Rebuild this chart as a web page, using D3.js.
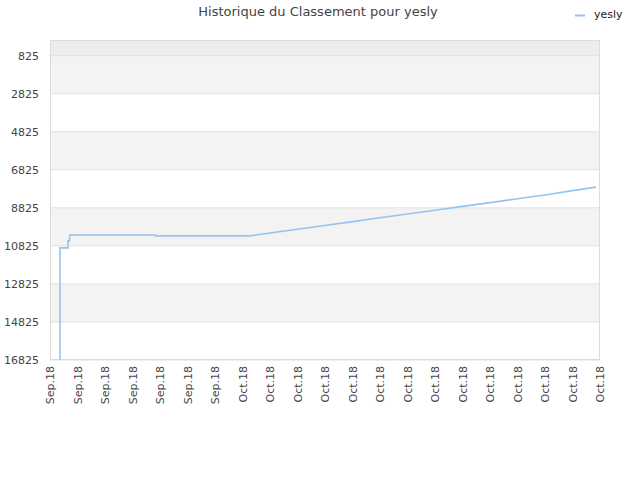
<!DOCTYPE html>
<html>
<head>
<meta charset="utf-8">
<script src="https://cdn.jsdelivr.net/npm/d3@7"></script>
<style>
  body { margin: 0; background: #fff; }
  text { font-family: "DejaVu Sans", sans-serif; }
</style>
</head>
<body>
<svg class="chart" width="640" height="480"></svg>
<script>
// rank history for yesly (lower rank = better, axis reversed)
const dates = [
  "2018-09-24T08:40", "2018-09-24T08:40", "2018-09-24T15:40", "2018-09-24T15:40",
  "2018-09-24T17:00", "2018-09-24T17:20", "2018-09-27T19:40", "2018-09-27T20:00",
  "2018-10-01T06:30", "2018-10-02T00:00", "2018-10-03T00:00", "2018-10-04T00:00",
  "2018-10-05T00:00", "2018-10-06T00:00", "2018-10-07T00:00", "2018-10-08T00:00",
  "2018-10-09T00:00", "2018-10-10T00:00", "2018-10-11T00:00", "2018-10-12T00:00",
  "2018-10-13T00:00", "2018-10-13T20:30"
];
const ranks = [
  16825, 10930, 10930, 10560,
  10560, 10250, 10250, 10300,
  10300, 10150, 9950, 9750,
  9550, 9350, 9150, 8950,
  8750, 8550, 8350, 8150,
  7920, 7736
];
const yTicks = [825, 2825, 4825, 6825, 8825, 10825, 12825, 14825, 16825];
const bandStarts = [825, 4825, 8825, 12825];
const seriesName = "yesly";
const xStart = "2018-09-24", xEnd = "2018-10-14";

const parse = d3.timeParse("%Y-%m-%dT%H:%M");
const parseDay = d3.timeParse("%Y-%m-%d");
const data = dates.map((d, i) => ({ date: parse(d), rank: ranks[i] }));

const plotL = 50, plotR = 600, plotT = 40, plotB = 360;
const svg = d3.select('svg.chart');

const x = d3.scaleTime()
            .domain([parseDay(xStart), parseDay(xEnd)])
            .range([plotL, plotR]);
const y = d3.scaleLinear()
            .domain([1, 16825])
            .range([plotT, plotB]);

// top strip and alternating bands
svg.append('rect')
   .attr('x', plotL).attr('y', plotT)
   .attr('width', plotR - plotL).attr('height', y(825) - plotT)
   .style('fill', '#ededed');

svg.selectAll('rect.band')
   .data(bandStarts)
   .enter()
   .append('rect')
   .classed('band', true)
   .attr('x', plotL)
   .attr('y', d => y(d))
   .attr('width', plotR - plotL)
   .attr('height', d => y(d + 2000) - y(d))
   .style('fill', '#f3f3f3');

// grid lines
svg.selectAll('line.grid')
   .data(yTicks)
   .enter()
   .append('line')
   .classed('grid', true)
   .attr('x1', plotL).attr('x2', plotR)
   .attr('y1', d => y(d)).attr('y2', d => y(d))
   .style('stroke', '#e0e0e0');

// frame
svg.append('rect')
   .attr('x', plotL + 0.5).attr('y', plotT + 0.5)
   .attr('width', plotR - plotL - 1).attr('height', plotB - plotT - 1)
   .style('fill', 'none')
   .style('stroke', '#dcdcdc');

// y axis labels
svg.selectAll('text.ytick')
   .data(yTicks)
   .enter()
   .append('text')
   .classed('ytick', true)
   .attr('x', 39)
   .attr('y', d => y(d) + 4)
   .attr('text-anchor', 'end')
   .style('font-size', '11px')
   .style('fill', '#444')
   .text(d => d);

// x axis labels, one per day
const fmt = d3.timeFormat("%b.%y");
svg.selectAll('text.xtick')
   .data(x.ticks(d3.timeDay.every(1)))
   .enter()
   .append('text')
   .classed('xtick', true)
   .attr('transform', d => `translate(${x(d) + 4},366) rotate(-90)`)
   .attr('text-anchor', 'end')
   .style('font-size', '11px')
   .style('fill', '#444')
   .text(d => fmt(d));

// series line
const line = d3.line()
               .x(d => x(d.date))
               .y(d => y(d.rank));

svg.append('path')
   .datum(data)
   .attr('d', line)
   .style('fill', 'none')
   .style('stroke', '#95c3f2')
   .style('stroke-width', 1.6);

// title
svg.append('text')
   .attr('x', 318).attr('y', 16)
   .attr('text-anchor', 'middle')
   .style('font-size', '13px')
   .style('fill', '#444')
   .text('Historique du Classement pour ' + seriesName);

// legend
svg.append('line')
   .attr('x1', 575).attr('x2', 585)
   .attr('y1', 15.5).attr('y2', 15.5)
   .style('stroke', '#95c3f2')
   .style('stroke-width', 2);
svg.append('text')
   .attr('x', 594).attr('y', 18)
   .style('font-size', '11px')
   .style('fill', '#222')
   .text(seriesName);
</script>
</body>
</html>
